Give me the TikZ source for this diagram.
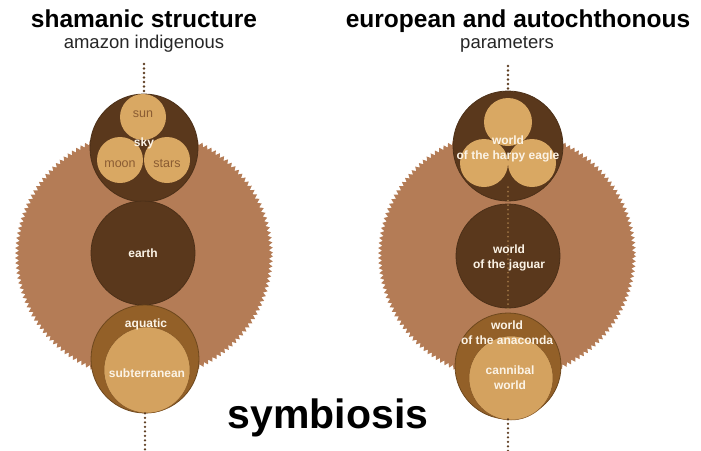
\documentclass[tikz,border=0pt]{standalone}
\usepackage{fontspec}
\setmainfont{Liberation Sans}
\usetikzlibrary{positioning,decorations.pathmorphing}
\definecolor{bark}{HTML}{B47C56}
\definecolor{cocoa}{HTML}{5A381C}
\definecolor{honey}{HTML}{D9A863}
\definecolor{amber}{HTML}{936028}
\definecolor{sand}{HTML}{D4A25F}
\definecolor{twig}{HTML}{8A5C33}
\definecolor{cream}{HTML}{FBF3E6}
\definecolor{seed}{HTML}{5E3E22}

\begin{document}
\begin{tikzpicture}[x=1pt,y=-1pt,
  darkdisc/.style={circle,fill=cocoa,draw=cocoa!85!black,line width=0.8pt,inner sep=0pt},
  lightdisc/.style={circle,fill=honey,inner sep=0pt,text=twig,font=\fontsize{12.5}{14}\selectfont},
  ringdisc/.style={circle,fill=amber,draw=amber!75!black,line width=0.8pt,inner sep=0pt},
  sanddisc/.style={circle,fill=sand,draw=amber!90!black,line width=0.5pt,inner sep=0pt},
  whitelabel/.style={text=cream,align=center,font=\bfseries\fontsize{12}{15}\selectfont},
  dotline/.style={seed,line width=2.6pt,line cap=round,dash pattern=on 0pt off 4.5pt},
  title/.style={anchor=base,font=\bfseries\fontsize{24.5}{28}\selectfont},
  subtitle/.style={anchor=base,text=black!85,font=\fontsize{18.5}{22}\selectfont},
  serrate/.style={decorate,decoration={zigzag,segment length=5pt,amplitude=2pt}}]
\useasboundingbox (0,0) rectangle (701,450);

% titles
\node[title] (titleL) at (144,27) {shamanic structure};
\node[subtitle] (subL) at (144,48) {amazon indigenous};
\node[title] (titleR) at (518,27) {european and autochthonous};
\node[subtitle] (subR) at (507,48) {parameters};

% left: shamanic structure
\fill[bark,serrate] (144,255) ellipse [x radius=127,y radius=124];
\node[darkdisc,minimum size=108pt] (sky) at (144,148) {};
\node[lightdisc,minimum size=46pt,text depth=6pt] (sun) at (143,117) {sun};
\node[lightdisc,minimum size=46pt,text height=16pt] (moon) at (120,160) {moon};
\node[lightdisc,minimum size=46pt,text height=16pt] (stars) at (167,160) {stars};
\node[whitelabel] (skylbl) at (144,143) {sky};
\node[darkdisc,minimum size=104pt] (earth) at (143,253) {};
\node[whitelabel] (earthlbl) at (143,253) {earth};
\node[ringdisc,minimum size=108pt] (aquatic) at (145,359) {};
\node[sanddisc,minimum size=86pt] (subter) at (147,370) {};
\node[whitelabel] (aqualbl) at (146,324) {aquatic};
\node[whitelabel] (subterlbl) at (147,373) {subterranean};
\coordinate (topL) at (144,64);
\coordinate (botL) at (145,452);
\draw[dotline] (topL) -- (sky.north);
\draw[dotline] (aquatic.south) -- (botL);

% right: european and autochthonous
\fill[bark,serrate] (507,255) ellipse [x radius=127,y radius=124];
\node[darkdisc,minimum size=110pt] (harpy) at (508,146) {};
\node[lightdisc,minimum size=48pt] (harpytop) at (508,122) {};
\node[lightdisc,minimum size=48pt] (harpyleft) at (484,163) {};
\node[lightdisc,minimum size=48pt] (harpyright) at (532,163) {};
\node[darkdisc,minimum size=104pt] (jaguar) at (508,256) {};
\node[ringdisc,minimum size=106pt] (anaconda) at (508,366) {};
\node[sanddisc,minimum size=84pt] (cannibal) at (511,378) {};
\coordinate (topR) at (508,66);
\coordinate (botR) at (508,452);
\draw[dotline] (topR) -- (harpy.north);
\draw[dotline,draw=seed!50!honey,line width=2pt] (harpy.center |- harpyleft.south) -- (anaconda.north);
\draw[dotline] (anaconda.south) -- (botR);
\node[whitelabel] (harpylbl) at (508,149) {world\\of the harpy eagle};
\node[whitelabel] (jaguarlbl) at (509,258) {world\\of the jaguar};
\node[whitelabel] (anacondalbl) at (507,333) {world\\of the anaconda};
\node[whitelabel] (cannibllbl) at (510,378) {cannibal\\world};

% caption
\node[anchor=base,font=\bfseries\fontsize{41}{46}\selectfont] (symb) at (328,428) {symbiosis};
\end{tikzpicture}
\end{document}
